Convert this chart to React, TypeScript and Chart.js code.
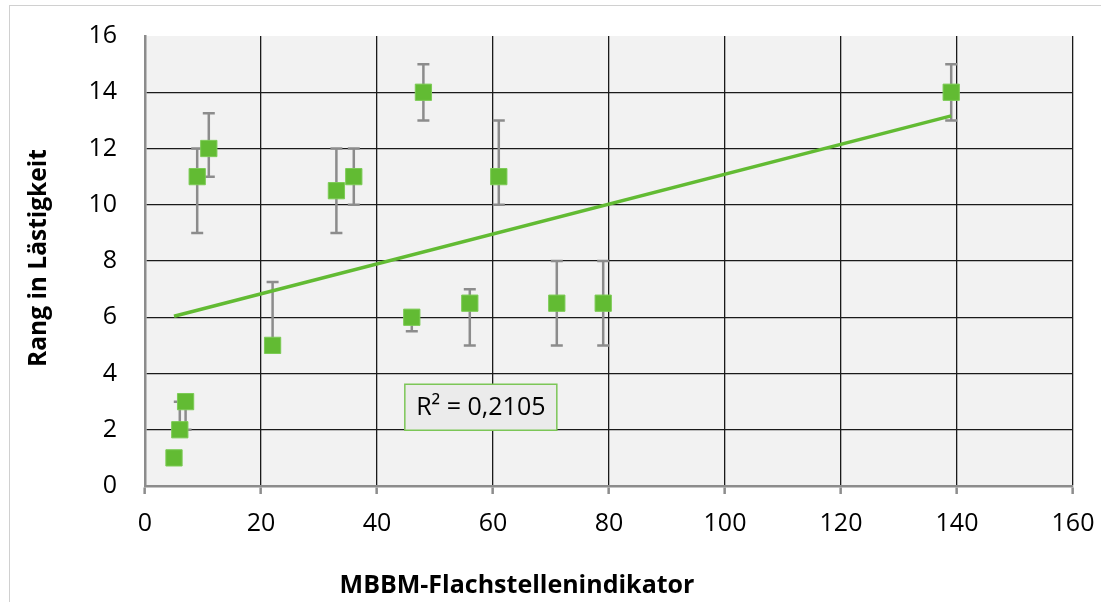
import { useEffect, useRef } from "react";
import { Chart, registerables } from "chart.js";

Chart.register(...registerables);

// ---- data ----
const xValues = [5, 6, 7, 9, 11, 22, 33, 36, 46, 48, 56, 61, 71, 79, 139];
const yValues = [1, 2, 3, 11, 12, 5, 10.5, 11, 6, 14, 6.5, 11, 6.5, 6.5, 14];
const errHigh = [1, 3, 3, 12, 13.25, 7.25, 12, 12, 6, 15, 7, 13, 8, 8, 15];
const errLow = [1, 2, 2, 9, 11, 5, 9, 10, 5.5, 13, 5, 10, 5, 5, 13];
const xAxisRange = [0, 160];
const xAxisStep = 20;
const yAxisRange = [0, 16];
const yAxisStep = 2;
const xTitle = "MBBM-Flachstellenindikator";
const yTitle = "Rang in Lästigkeit";
const r2Label = "R² = 0,2105";

const GREEN = "#62bb33";
const FONT = "'Open Sans', 'DejaVu Sans', sans-serif";

function regression(xs: number[], ys: number[]) {
  const n = xs.length;
  const mx = xs.reduce((a, b) => a + b, 0) / n;
  const my = ys.reduce((a, b) => a + b, 0) / n;
  let sxy = 0, sxx = 0;
  for (let i = 0; i < n; i++) {
    sxy += (xs[i] - mx) * (ys[i] - my);
    sxx += (xs[i] - mx) * (xs[i] - mx);
  }
  const slope = sxy / sxx;
  return { slope, intercept: my - slope * mx };
}

export default function App() {
  const ref = useRef<HTMLCanvasElement | null>(null);

  useEffect(() => {
    document.body.style.margin = "0";
    const canvas = ref.current!;
    const { slope, intercept } = regression(xValues, yValues);
    const xMin = Math.min(...xValues);
    const xMax = Math.max(...xValues);
    const trend = [
      { x: xMin, y: intercept + slope * xMin },
      { x: xMax, y: intercept + slope * xMax },
    ];
    const points = xValues.map((x, i) => ({ x, y: yValues[i] }));

    const bgPlugin = {
      id: "bg",
      beforeDraw(chart: any) {
        const { ctx, chartArea: a } = chart;
        ctx.save();
        ctx.fillStyle = "#ffffff";
        ctx.fillRect(0, 0, chart.width, chart.height);
        ctx.strokeStyle = "#d0d0d0";
        ctx.lineWidth = 1;
        ctx.strokeRect(9.5, 5.5, chart.width + 20, chart.height + 20);
        ctx.fillStyle = "#f2f2f2";
        ctx.fillRect(a.left, a.top, a.right - a.left, a.bottom - a.top);
        ctx.restore();
      },
    };

    const errPlugin = {
      id: "errbars",
      beforeDatasetsDraw(chart: any) {
        const { ctx } = chart;
        const xs = chart.scales.x;
        const ys = chart.scales.y;
        ctx.save();
        ctx.strokeStyle = "#8c8c8c";
        ctx.lineWidth = 2.5;
        const cap = 6;
        xValues.forEach((xv, i) => {
          const px = xs.getPixelForValue(xv);
          const py = ys.getPixelForValue(yValues[i]);
          [errHigh[i], errLow[i]].forEach((ev) => {
            if (ev === yValues[i]) return;
            const pe = ys.getPixelForValue(ev);
            ctx.beginPath();
            ctx.moveTo(px, py);
            ctx.lineTo(px, pe);
            ctx.moveTo(px - cap, pe);
            ctx.lineTo(px + cap, pe);
            ctx.stroke();
          });
        });
        ctx.restore();
      },
    };

    const labelPlugin = {
      id: "labels",
      afterDraw(chart: any) {
        const { ctx } = chart;
        const xs = chart.scales.x;
        const ys = chart.scales.y;
        ctx.save();
        ctx.fillStyle = "#000";
        ctx.textAlign = "center";
        ctx.textBaseline = "middle";
        ctx.font = `bold 25px ${FONT}`;
        ctx.fillText(xTitle, 517, 586);
        ctx.save();
        ctx.translate(39, 258);
        ctx.rotate(-Math.PI / 2);
        ctx.font = `bold 24.5px ${FONT}`;
        ctx.fillText(yTitle, 0, 0);
        ctx.restore();

        // R² box
        const cx = xs.getPixelForValue(57.9);
        const cy = ys.getPixelForValue(2.8);
        const w = 152, h = 46;
        ctx.fillStyle = "#ebebeb";
        ctx.fillRect(cx - w / 2, cy - h / 2, w, h);
        ctx.strokeStyle = "#7cc657";
        ctx.lineWidth = 1.5;
        ctx.strokeRect(cx - w / 2, cy - h / 2, w, h);
        ctx.fillStyle = "#000";
        ctx.font = `25px ${FONT}`;
        ctx.fillText(r2Label, cx, cy + 1);
        ctx.restore();
      },
    };

    const chart = new Chart(canvas, {
      type: "scatter",
      data: {
        datasets: [
          {
            label: "points",
            data: points,
            pointStyle: "rect",
            pointRadius: 11.5,
            pointBackgroundColor: GREEN,
            pointBorderColor: "#7ccb55",
            pointBorderWidth: 1,
            order: 0,
          },
          {
            type: "line",
            label: "trend",
            data: trend,
            borderColor: GREEN,
            borderWidth: 3.5,
            pointRadius: 0,
            fill: false,
            order: 1,
          } as any,
        ],
      },
      options: {
        animation: false,
        responsive: false,
        layout: { padding: { top: 36, right: 28, left: 0, bottom: 0 } },
        plugins: { legend: { display: false }, tooltip: { enabled: false } },
        scales: {
          x: {
            type: "linear",
            min: xAxisRange[0],
            max: xAxisRange[1],
            afterFit(scale: any) {
              scale.height = 116;
              scale.paddingLeft = 0;
              scale.paddingRight = 0;
            },
            ticks: {
              stepSize: xAxisStep,
              color: "#000",
              font: { family: FONT, size: 25 },
              padding: 15,
              maxRotation: 0,
            },
            grid: {
              color: "#1a1a1a",
              lineWidth: 1.3,
              drawTicks: true,
              tickLength: 8,
              tickColor: "#8c8c8c",
              tickWidth: 2.5,
            },
            border: { color: "#8c8c8c", width: 2.5 },
          },
          y: {
            type: "linear",
            min: yAxisRange[0],
            max: yAxisRange[1],
            afterFit(scale: any) {
              scale.width = 145;
              scale.paddingTop = 0;
              scale.paddingBottom = 0;
            },
            ticks: {
              stepSize: yAxisStep,
              color: "#000",
              font: { family: FONT, size: 25 },
              padding: 28,
            },
            grid: {
              color: (c: any) =>
                c.tick && c.tick.value === yAxisRange[1] ? "rgba(0,0,0,0)" : "#1a1a1a",
              lineWidth: 1.3,
              drawTicks: false,
            },
            border: { color: "#8c8c8c", width: 2.5 },
          },
        },
      },
      plugins: [bgPlugin, errPlugin, labelPlugin],
    });
    return () => chart.destroy();
  }, []);

  return (
    <div style={{ width: 1101, height: 602 }}>
      <canvas ref={ref} width={1101} height={602} style={{ display: "block" }} />
    </div>
  );
}
